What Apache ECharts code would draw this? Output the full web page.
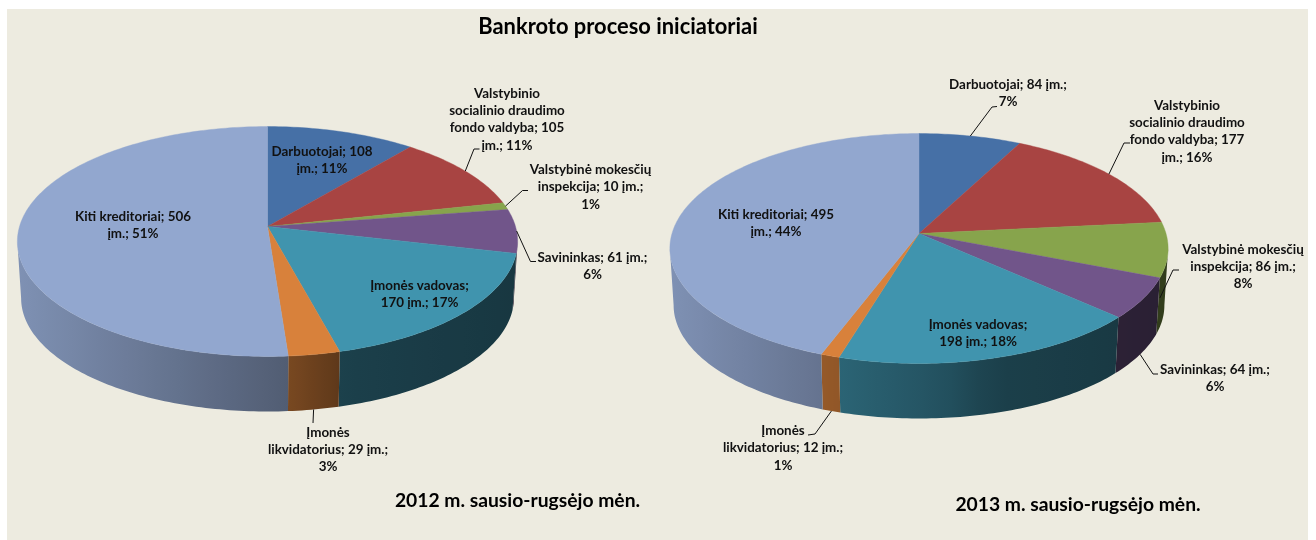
<!DOCTYPE html>
<html><head><meta charset="utf-8">
<style>html,body{margin:0;padding:0;background:#fff}#c{width:1316px;height:540px}</style>
<script src="https://cdn.jsdelivr.net/npm/echarts@6/dist/echarts.min.js"></script>
</head><body><div id="c"></div>
<script>
// ---- data ----
const categories = ["Darbuotojai","Valstybinio socialinio draudimo fondo valdyba","Valstybinė mokesčių inspekcija","Savininkas","Įmonės vadovas","Įmonės likvidatorius","Kiti kreditoriai"];
const values2012 = [108,105,10,61,170,29,506];
const values2013 = [84,177,86,64,198,12,495];
const labels2012 = ["Darbuotojai; 108\nįm.; 11%","Valstybinio\nsocialinio draudimo\nfondo valdyba; 105\nįm.; 11%","Valstybinė mokesčių\ninspekcija; 10 įm.;\n1%","Savininkas; 61 įm.;\n6%","Įmonės vadovas;\n170 įm.; 17%","Įmonės\nlikvidatorius; 29 įm.;\n3%","Kiti kreditoriai; 506\nįm.; 51%"];
const labels2013 = ["Darbuotojai; 84 įm.;\n7%","Valstybinio\nsocialinio draudimo\nfondo valdyba; 177\nįm.; 16%","Valstybinė mokesčių\ninspekcija; 86 įm.;\n8%","Savininkas; 64 įm.;\n6%","Įmonės vadovas;\n198 įm.; 18%","Įmonės\nlikvidatorius; 12 įm.;\n1%","Kiti kreditoriai; 495\nįm.; 44%"];
const chartTitle = "Bankroto proceso iniciatoriai";
const period2012 = "2012 m. sausio-rugsėjo mėn.";
const period2013 = "2013 m. sausio-rugsėjo mėn.";

// ---- styles and layout ----
const colors = ["#4670A6","#A84442","#87A44C","#71558A","#4094AE","#D8813B","#92A7CF"];
const FONT = "Lato";
const PIES = [
  {cx:267.5, cy:226.5, b:248, values:values2012, labels:labels2012,
   labelAt:[[322,160],[507,119.5],[590.5,187],[592.5,266],[419.5,294.5],[328,449.5],[133,225.5]],
   leaders:[null,{pts:[[474,149],[479.5,149]]},{pts:[[522.5,190.5],[528,190.5]]},{pts:[[530.5,261.5],[536,261.5]]},null,{level:1,pts:[[313,423]]},null]},
  {cx:919, cy:233.5, b:247, values:values2013, labels:labels2013,
   labelAt:[[1008,93.5],[1187,131.5],[1243,266.5],[1215,378.5],[978,333.5],[783,448],[776,223.5]],
   leaders:[{pts:[[992,107],[997,106.5]]},{pts:[[1124,143],[1130,143]]},{level:0.85,shift:-5,pts:[[1173,270],[1179,270]]},{level:1,pts:[[1153,374],[1158,374]]},null,{level:1,pts:[[815,434],[808,435]]},null]}
];
const GEO = {a:113, k:0.1304, depth:57, baseScale:0.985};
const TH_R = Math.acos(-GEO.k), TH_L = 2*Math.PI-TH_R;   // silhouette angles of the disc

function project(pie, theta, level){
  const u=Math.sin(theta), v=Math.cos(theta), w=1+GEO.k*v;
  const s=level?1-(1-GEO.baseScale)*level:1;
  return [pie.cx+pie.b*s*u/w, pie.cy+GEO.depth*level-GEO.a*s*v/w];
}
function arcs(pie){
  const tot=pie.values.reduce((a,b)=>a+b,0); let c=0;
  return pie.values.map(v=>{const a0=c/tot*2*Math.PI; c+=v; return [a0,c/tot*2*Math.PI];});
}
function rim(pie,a0,a1,level){
  const n=Math.max(2,Math.ceil((a1-a0)/(Math.PI/180))), pts=[];
  for(let i=0;i<=n;i++) pts.push(project(pie,a0+(a1-a0)*i/n,level));
  return pts;
}
function shade(t){
  const tbl=[[0,.87],[.55,.55],[.65,.43],[1,.37]];
  for(let i=1;i<tbl.length;i++) if(t<=tbl[i][0]){const [t0,f0]=tbl[i-1],[t1,f1]=tbl[i];return f0+(f1-f0)*(t-t0)/(t1-t0);}
  return tbl[tbl.length-1][1];
}
function mul(hex,f){
  const n=parseInt(hex.slice(1),16);
  return `rgb(${Math.round((n>>16&255)*f)},${Math.round((n>>8&255)*f)},${Math.round((n&255)*f)})`;
}
function series(pie,kind){
  const sectors=arcs(pie);
  return {
    type:'custom', coordinateSystem:'none', silent:true, animation:false, clip:false,
    data:pie.values.map((v,i)=>({name:categories[i],value:[v]})),
    renderItem(params,api){
      const i=params.dataIndex,[a0,a1]=sectors[i];
      if(kind==='wall'){
        const w0=Math.max(a0,TH_R), w1=Math.min(a1,TH_L);
        if(w1<=w0) return {type:'group',children:[]};
        const pts=rim(pie,w0,w1,0).concat(rim(pie,w0,w1,1).reverse());
        const xs=pts.map(p=>p[0]), x0=Math.min(...xs), x1=Math.max(...xs);
        const left=pie.cx-pie.b*1.01, span=pie.b*2.02, stops=[];
        for(let j=0;j<=10;j++){const x=x0+(x1-x0)*j/10; stops.push({offset:j/10,color:mul(colors[i],shade((x-left)/span))});}
        return {type:'polygon',shape:{points:pts},style:{fill:{type:'linear',x:x0,y:0,x2:x1,y2:0,global:true,colorStops:stops}}};
      }
      if(kind==='top'){
        return {type:'polygon',shape:{points:[[pie.cx,pie.cy]].concat(rim(pie,a0,a1,0))},style:{fill:colors[i],stroke:colors[i],lineWidth:0.4}};
      }
      const [lx,ly]=pie.labelAt[i], kids=[];
      const L=pie.leaders[i];
      if(L){
        const start=project(pie,(a0+a1)/2,L.level||0);
        start[0]+=L.shift||0;
        kids.push({type:'polyline',shape:{points:[start].concat(L.pts)},style:{fill:'none',stroke:'#111',lineWidth:1}});
      }
      kids.push({type:'text',style:{text:pie.labels[i],x:lx,y:ly,align:'center',verticalAlign:'middle',font:`bold 13.4px ${FONT}`,lineHeight:17.3,fill:'#111'}});
      return {type:'group',children:kids};
    }
  };
}
const heading=(text,x,y,size)=>({text,left:x,top:y,textAlign:'center',textVerticalAlign:'middle',padding:0,
  textStyle:{fontFamily:FONT,fontWeight:'bold',fontSize:size,color:'#000'}});
const chart=echarts.init(document.getElementById('c'),null,{renderer:'canvas'});
chart.setOption({
  animation:false, backgroundColor:'#fff',
  title:[heading(chartTitle,618,27,21.9),heading(period2012,517.5,501,19.3),heading(period2013,1078,505,19.3)],
  graphic:[{type:'rect',z:-10,silent:true,shape:{x:7,y:9,width:1301,height:531},style:{fill:'#EDEBE0'}}],
  series:PIES.flatMap(p=>[series(p,'wall'),series(p,'top')]).concat(PIES.map(p=>series(p,'label')))
});
</script></body></html>
